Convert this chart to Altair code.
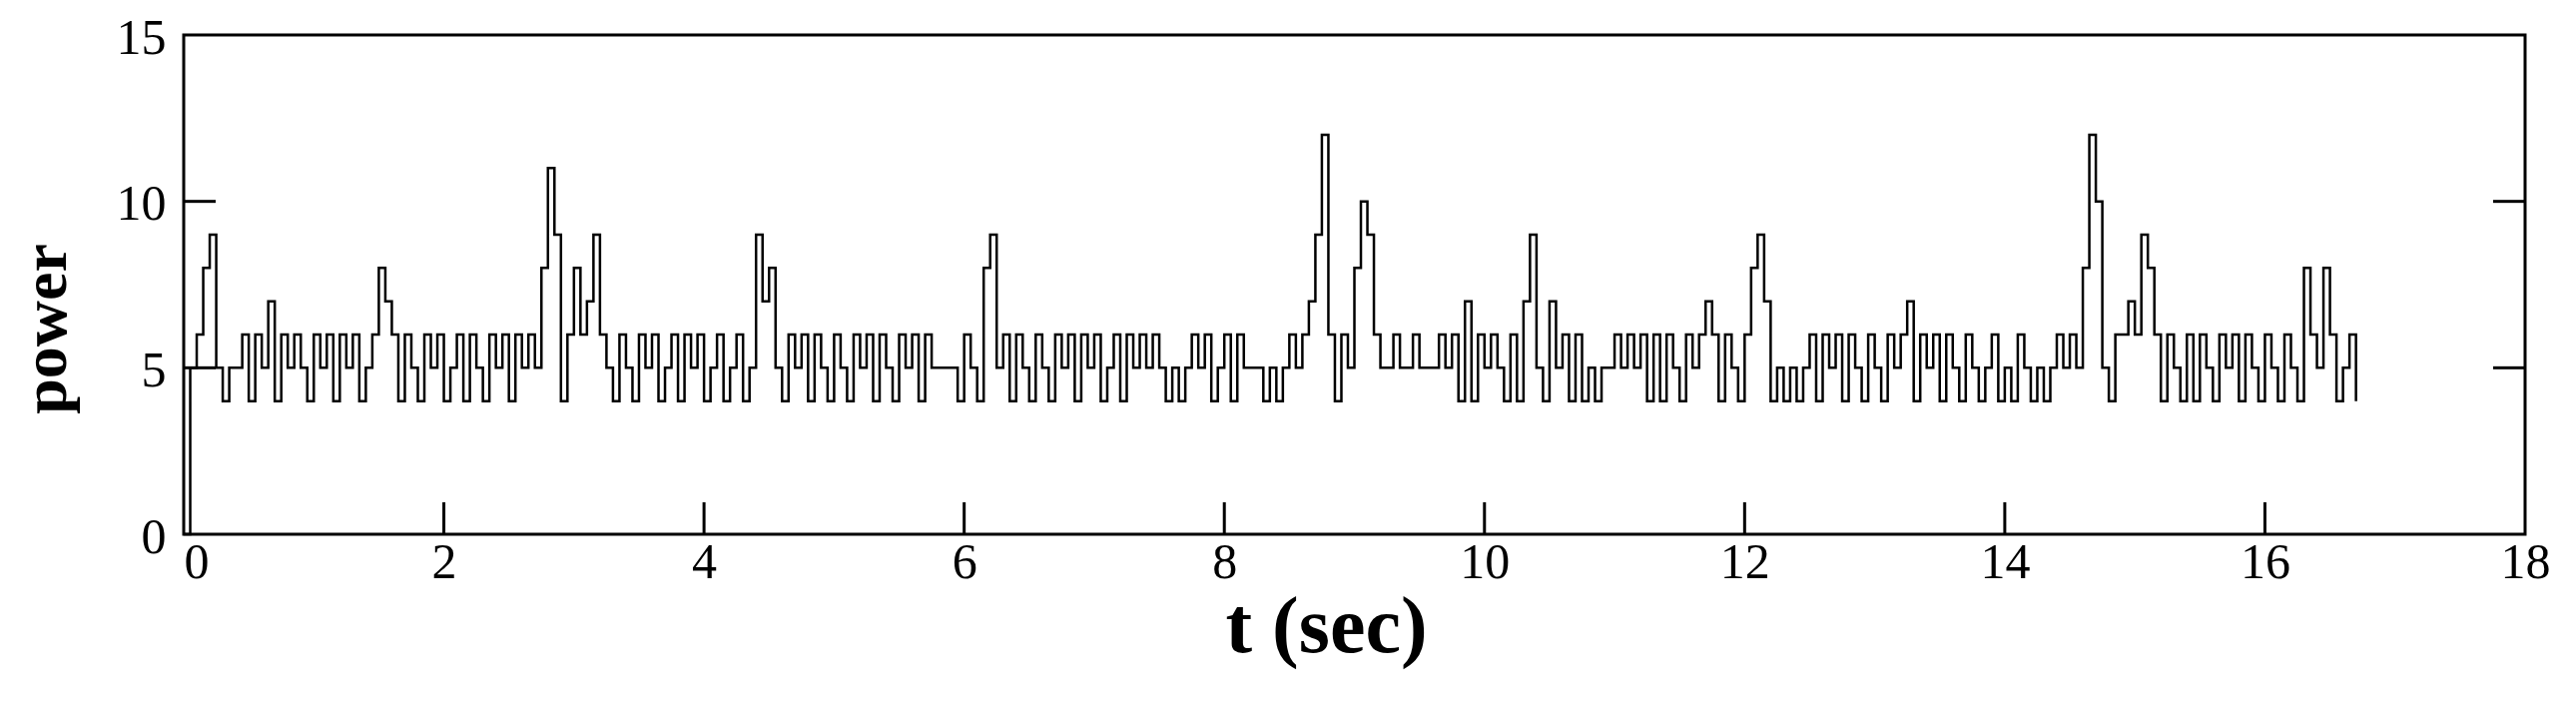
import altair as alt
import pandas as pd

# sampled power trace, one string per second (hex digit per 0.05 s sample)
DT = 0.05
sec00 = "05689545564657465654"
sec01 = "65646564568764654656"
sec02 = "4564654656465658b946"
sec03 = "86796546546564564656"
sec04 = "45645645978546564654"
sec05 = "65465646546564655554"
sec06 = "65489564654654656465"
sec07 = "64564656565454565645"
sec08 = "646555454565679c6465"
sec09 = "8a965565565556564746"
sec10 = "56546479547564645455"
sec11 = "65656464654656764654"
sec12 = "68974545456465646546"
sec13 = "54656746564654654564"
sec14 = "5465454565658ca54667"
sec15 = "69864654646546564654"
sec16 = "654654865864564"
segments = [sec00, sec01, sec02, sec03, sec04, sec05, sec06, sec07, sec08,
            sec09, sec10, sec11, sec12, sec13, sec14, sec15, sec16]

power = [int(c, 16) for s in segments for c in s]
t = [round(i * DT, 2) for i in range(len(power))]

x_tick_values = [0, 2, 4, 6, 8, 10, 12, 14, 16, 18]
y_tick_values = [0, 5, 10, 15]
x_inner_ticks = [2, 4, 6, 8, 10, 12, 14, 16]
y_inner_ticks = [5, 10]

W, H = 2345, 500
TICK = 32
FONT = "Liberation Serif"

df = pd.DataFrame({"t": t, "power": power})
xt = pd.DataFrame({"t": x_inner_ticks})
yt = pd.DataFrame({"power": y_inner_ticks})

xscale = alt.Scale(domain=[0, 18], nice=False, zero=False)
yscale = alt.Scale(domain=[0, 15], nice=False)

xaxis = alt.Axis(
    title="t (sec)", values=x_tick_values, grid=False, domain=False, ticks=False,
    labelFont=FONT, labelFontSize=50, labelColor="black", labelPadding=3,
    labelFlush=False,
    labelAlign=alt.expr("datum.value == 0 ? 'left' : 'center'"),
    titleFont=FONT, titleFontSize=80, titleFontWeight="bold", titleColor="black",
    titleX=1144, titleY=93, titleAlign="center", titleBaseline="middle",
)
yaxis = alt.Axis(
    title="power", values=y_tick_values, grid=False, domain=False, ticks=False,
    labelFont=FONT, labelFontSize=50, labelColor="black", labelPadding=18,
    labelOffset=3,
    titleFont=FONT, titleFontSize=64, titleFontWeight="bold", titleColor="black",
    titleAngle=270, titleX=-138, titleY=294, titleAlign="center", titleBaseline="middle",
)

X = alt.X("t:Q", scale=xscale, axis=xaxis)
Y = alt.Y("power:Q", scale=yscale, axis=yaxis)

line = alt.Chart(df).mark_line(
    interpolate="step-after", color="black", strokeWidth=2.5
).encode(x=X, y=Y)

left_ticks = alt.Chart(yt).mark_rule(color="black", strokeWidth=3).encode(
    y=Y, x=alt.value(0), x2=alt.value(TICK)
)
right_ticks = alt.Chart(yt).mark_rule(color="black", strokeWidth=3).encode(
    y=Y, x=alt.value(W - TICK), x2=alt.value(W)
)
bottom_ticks = alt.Chart(xt).mark_rule(color="black", strokeWidth=3).encode(
    x=X, y=alt.value(H - TICK), y2=alt.value(H)
)

chart = alt.layer(line, left_ticks, right_ticks, bottom_ticks).properties(
    width=W, height=H,
    autosize=alt.AutoSizeParams(type="none"),
    padding={"left": 176, "top": 27, "right": 40, "bottom": 165},
).configure(background="white").configure_view(stroke="black", strokeWidth=3)

chart.save("out.html", embed_options={"renderer": "svg", "actions": False})
